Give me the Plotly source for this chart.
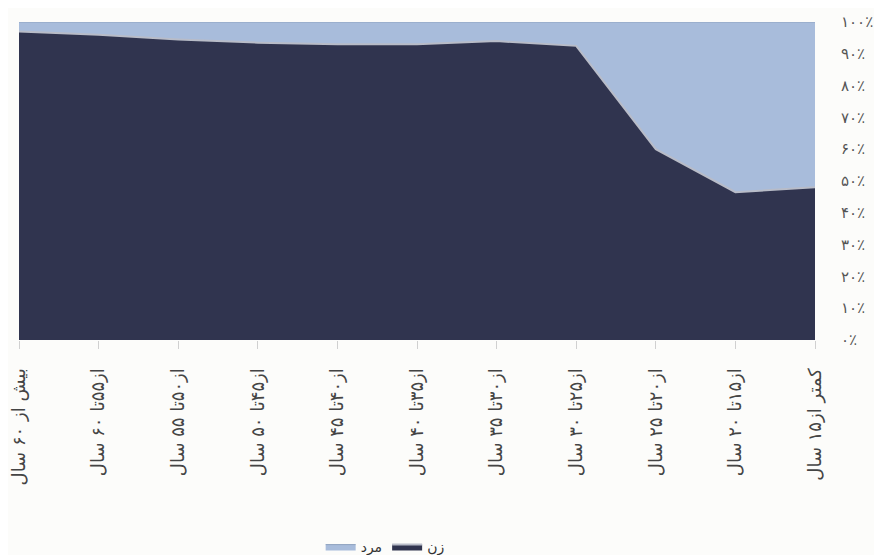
import plotly.graph_objects as go

age_groups = [
    "بیش از ۶۰ سال",
    "از۵۵تا ۶۰ سال",
    "از۵۰تا ۵۵ سال",
    "از۴۵تا ۵۰ سال",
    "از۴۰تا ۴۵ سال",
    "از۳۵تا ۴۰ سال",
    "از۳۰تا ۳۵ سال",
    "از۲۵تا ۳۰ سال",
    "از۲۰تا ۲۵ سال",
    "از۱۵تا ۲۰ سال",
    "کمتر از۱۵ سال",
]
women = [97, 96, 94.5, 93.5, 93, 93, 94, 92.5, 60, 46.5, 48]
men = [3, 4, 5.5, 6.5, 7, 7, 6, 7.5, 40, 53.5, 52]

y_ticks = [0, 10, 20, 30, 40, 50, 60, 70, 80, 90, 100]
y_labels = ["۰٪", "۱۰٪", "۲۰٪", "۳۰٪", "۴۰٪", "۵۰٪", "۶۰٪", "۷۰٪", "۸۰٪", "۹۰٪", "۱۰۰٪"]

fig = go.Figure()
fig.add_trace(
    go.Scatter(
        x=age_groups, y=women, name="زن", stackgroup="one", groupnorm="percent",
        mode="lines", line=dict(color="#b8bcc8", width=2),
        fillcolor="#30344f",
    )
)
fig.add_trace(
    go.Scatter(
        x=age_groups, y=men, name="مرد", stackgroup="one",
        mode="lines", line=dict(color="#8ea2bf", width=1),
        fillcolor="#a8bcdb",
    )
)

fig.update_layout(
    width=882, height=555,
    paper_bgcolor="#fcfcfa", plot_bgcolor="#fcfcfa",
    margin=dict(l=11, r=75, t=14, b=223),
    font=dict(family="DejaVu Sans", color="#4a4a4a"),
    showlegend=True,
    legend=dict(
        orientation="h", x=0.46, xanchor="center",
        yref="container", y=0.0, yanchor="bottom",
        traceorder="reversed", font=dict(size=14, color="#333"),
    ),
)
fig.update_xaxes(
    type="category", range=[0, 10], tickangle=-90, showgrid=False,
    ticks="outside", ticklen=8, tickcolor="#d0d0d0", showline=False,
    ticklabelstandoff=12, automargin=False,
    tickfont=dict(size=18, color="#444"),
)
fig.update_yaxes(
    side="right", range=[0, 100], tickvals=y_ticks, ticktext=y_labels,
    showgrid=False, zeroline=False, showline=False,
    ticklabelstandoff=25, automargin=False,
    tickfont=dict(size=15, color="#555"),
)

fig.write_html("out.html")
